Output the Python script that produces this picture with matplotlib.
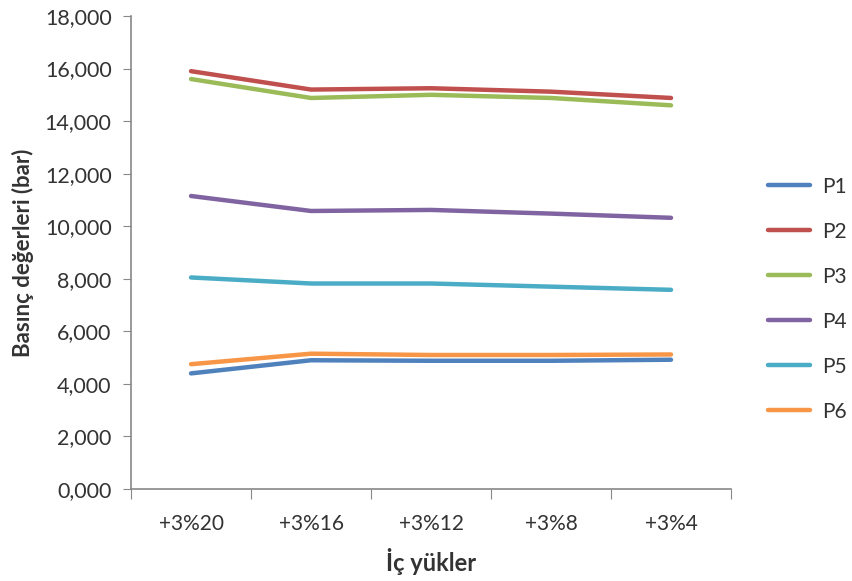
import matplotlib.pyplot as plt
from matplotlib.lines import Line2D

plt.rcParams['font.family'] = ['Lato', 'DejaVu Sans']

kategoriler = ['+3%20', '+3%16', '+3%12', '+3%8', '+3%4']
seriler = ['P1', 'P2', 'P3', 'P4', 'P5', 'P6']

p1 = [4.40, 4.90, 4.88, 4.88, 4.92]
p2 = [15.90, 15.20, 15.25, 15.12, 14.88]
p3 = [15.60, 14.88, 15.00, 14.88, 14.60]
p4 = [11.15, 10.58, 10.62, 10.48, 10.32]
p5 = [8.05, 7.82, 7.82, 7.70, 7.58]
p6 = [4.75, 5.15, 5.10, 5.10, 5.12]
y_ticks = [0, 2, 4, 6, 8, 10, 12, 14, 16, 18]

renkler = ['#4F81BD', '#C0504D', '#9BBB59', '#8064A2', '#4BACC6', '#F79646']
degerler = [p1, p2, p3, p4, p5, p6]

fig = plt.figure(figsize=(8.53, 5.81), dpi=100)
ax = fig.add_axes([0.1536, 0.1583, 0.7034, 0.8142])

x = list(range(len(kategoriler)))
for ad, vals, c in zip(seriler, degerler, renkler):
    ax.plot(x, vals, color=c, lw=3.2, solid_capstyle='round', label=ad)

ax.set_xlim(-0.5, len(kategoriler) - 0.5)
ax.set_ylim(0, 18)
ax.set_yticks(y_ticks)
ax.set_yticklabels([f'{v:.3f}'.replace('.', ',') for v in y_ticks])

# kategori sinirlarinda tik (Excel gibi)
ax.set_xticks([i - 0.5 for i in range(len(kategoriler) + 1)])
ax.set_xticklabels([])
ax.set_xticks(x, minor=True)
ax.set_xticklabels(kategoriler, minor=True)
ax.tick_params(axis='x', which='major', length=7, color='#888888', direction='out')
ax.tick_params(axis='x', which='minor', length=0, pad=18, labelsize=15, labelcolor='#333333')
ax.tick_params(axis='y', length=6, color='#888888', labelsize=15.5, labelcolor='#333333', pad=8)

for s in ['top', 'right']:
    ax.spines[s].set_visible(False)
for s in ['left', 'bottom']:
    ax.spines[s].set_color('#888888')
    ax.spines[s].set_linewidth(1.2)

ax.set_ylabel('Basınç değerleri (bar)', fontsize=16, fontweight='bold', color='#333333', labelpad=8)
ax.set_xlabel('İç yükler', fontsize=17, fontweight='bold', color='#333333', labelpad=10)

tutamaclar = [Line2D([0], [0], color=c, lw=3.2, solid_capstyle='round') for c in renkler]
fig.legend(tutamaclar, seriler, loc='center left', bbox_to_anchor=(0.9004, 0.485),
           frameon=False, fontsize=15, handlelength=2.0, labelspacing=1.2,
           handletextpad=0.6, borderpad=0, borderaxespad=0, labelcolor='#333333')

fig.savefig('out.png', dpi=100)
